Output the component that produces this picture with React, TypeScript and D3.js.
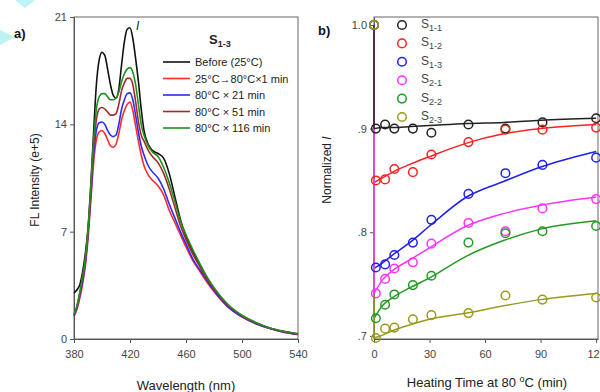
import React, { useEffect, useRef } from 'react'
import * as d3 from 'd3'

// --- panel a: fluorescence spectra (e+5) ---
const wavelengths = [380, 382, 384, 386, 388, 390, 392, 394, 396, 398, 400, 402, 404, 406, 408, 410, 412, 414, 416, 418, 420, 422, 424, 426, 428, 430, 433, 436, 440, 444, 448, 452, 456, 460, 465, 470, 475, 480, 490, 500, 510, 520, 530, 540]
const specBefore = [3.0, 3.2, 3.5, 4.3, 5.5, 7.2, 10.0, 13.5, 16.6, 18.2, 18.7, 18.5, 17.6, 16.6, 15.9, 15.7, 16.3, 17.9, 19.4, 20.2, 20.3, 19.6, 18.3, 16.8, 15.0, 13.6, 12.7, 12.3, 12.1, 11.8, 10.8, 9.3, 7.8, 6.7, 5.7, 4.8, 4.0, 3.3, 2.2, 1.5, 1.05, 0.7, 0.48, 0.33]
const spec1 = [1.5, 1.9, 2.6, 3.5, 4.7, 6.5, 9.0, 11.5, 13.0, 13.5, 13.6, 13.4, 13.0, 12.6, 12.5, 12.7, 13.4, 14.3, 14.9, 15.3, 15.45, 14.9, 13.9, 12.9, 12.0, 11.3, 10.7, 10.35, 10.0, 9.4, 8.4, 7.6, 6.8, 6.0, 5.1, 4.4, 3.7, 3.1, 2.1, 1.45, 1.0, 0.68, 0.45, 0.3]
const spec21 = [1.5, 2.0, 2.8, 3.7, 4.9, 6.8, 9.3, 12.0, 13.6, 14.1, 14.15, 14.0, 13.6, 13.3, 13.2, 13.3, 14.0, 15.0, 15.6, 16.0, 16.05, 15.6, 14.6, 13.5, 12.6, 12.0, 11.3, 10.9, 10.5, 9.8, 8.8, 7.9, 7.0, 6.2, 5.2, 4.5, 3.8, 3.15, 2.1, 1.45, 1.0, 0.68, 0.45, 0.3]
const spec51 = [1.6, 2.1, 2.9, 3.9, 5.1, 7.0, 9.6, 12.5, 14.3, 15.0, 15.1, 15.0, 14.8, 14.6, 14.6, 14.7, 15.3, 16.2, 16.7, 17.0, 17.0, 16.6, 15.5, 14.2, 13.3, 12.9, 12.3, 11.9, 11.5, 10.8, 9.8, 8.6, 7.4, 6.5, 5.5, 4.7, 3.9, 3.25, 2.2, 1.5, 1.05, 0.7, 0.47, 0.32]
const spec116 = [1.6, 2.1, 3.0, 4.0, 5.2, 7.1, 10.0, 13.0, 15.0, 15.8, 16.0, 16.0, 15.8, 15.6, 15.6, 15.7, 16.1, 16.8, 17.3, 17.6, 17.7, 17.4, 16.6, 15.3, 14.0, 13.3, 12.6, 12.2, 11.9, 11.2, 10.2, 9.0, 7.7, 6.8, 5.8, 4.9, 4.05, 3.35, 2.25, 1.55, 1.08, 0.72, 0.5, 0.35]
const specLabels = ['Before (25°C)', '25°C→80°C×1 min', '80°C × 21 min', '80°C × 51 min', '80°C × 116 min']
const specColors = ['#111111', '#ff2b2b', '#2b2bff', '#a52a2a', '#1f8f1f']
const wlTicks = [380, 420, 460, 500, 540]
const flTicks = [0, 7, 14, 21]

// --- panel b: normalized intensity vs heating time ---
const samples = ['1-1', '1-2', '1-3', '2-1', '2-2', '2-3']
const sampleColors = ['#222222', '#ff2020', '#2020e6', '#ff33ff', '#229a22', '#9a9a1e']
const startValue = 1.0
const times = [1, 6, 11, 21, 31, 51, 71, 91, 120]
const pts11 = [0.900, 0.904, 0.900, 0.900, 0.896, 0.904, 0.900, 0.906, 0.910]
const pts12 = [0.850, 0.851, 0.861, 0.858, 0.875, 0.887, 0.899, 0.899, 0.901]
const pts13 = [0.766, 0.769, 0.778, 0.790, 0.812, 0.837, 0.857, 0.865, 0.872]
const pts21 = [0.741, 0.755, 0.765, 0.771, 0.789, 0.809, 0.801, 0.823, 0.832]
const pts22 = [0.717, 0.730, 0.740, 0.749, 0.758, 0.790, 0.799, 0.801, 0.806]
const pts23 = [0.698, 0.707, 0.708, 0.716, 0.720, 0.722, 0.739, 0.735, 0.737]
const fitTimes = [0, 5, 10, 20, 30, 50, 70, 90, 120]
const fit11 = [0.900, 0.901, 0.901, 0.902, 0.903, 0.905, 0.906, 0.908, 0.910]
const fit12 = [0.848, 0.853, 0.858, 0.866, 0.873, 0.886, 0.895, 0.900, 0.904]
const fit13 = [0.765, 0.771, 0.778, 0.791, 0.806, 0.834, 0.849, 0.863, 0.878]
const fit21 = [0.741, 0.755, 0.763, 0.774, 0.785, 0.806, 0.818, 0.826, 0.834]
const fit22 = [0.717, 0.730, 0.737, 0.747, 0.756, 0.777, 0.792, 0.803, 0.811]
const fit23 = [0.698, 0.701, 0.705, 0.711, 0.716, 0.722, 0.729, 0.735, 0.741]
const timeTicks = [0, 30, 60, 90, 120]
const normTicks = [1.0, 0.9, 0.8, 0.7]

const FONT = 'Liberation Sans, Arial, sans-serif'

export default function App() {
  const ref = useRef<SVGSVGElement>(null)

  useEffect(() => {
    const svg = d3.select(ref.current)
    svg.selectAll('*').remove()

    // stray cyan shapes in the corner of the scan
    svg.append('path').attr('d', 'M15,0 L35,0 L25,8 Z').attr('fill', '#bdf3f5')
    svg.append('path').attr('d', 'M0,30 L15,37 L0,45 Z').attr('fill', '#bdf3f5')

    // ================= panel a =================
    const xa = d3.scaleLinear().domain([380, 540]).range([74, 298])
    const ya = d3.scaleLinear().domain([0, 21]).range([339, 17])
    const ga = svg.append('g')

    ga.append('rect')
      .attr('x', 74).attr('y', 17)
      .attr('width', 224).attr('height', 322)
      .attr('fill', 'none').attr('stroke', '#666').attr('stroke-width', 1)

    const axA = ga.append('g').attr('transform', 'translate(0,339)')
      .call(d3.axisBottom(xa).tickValues(wlTicks).tickSize(4).tickSizeOuter(0))
    const ayA = ga.append('g').attr('transform', 'translate(74,0)')
      .call(d3.axisLeft(ya).tickValues(flTicks).tickSize(4).tickSizeOuter(0))
    ;[axA, ayA].forEach(a => {
      a.select('.domain').attr('stroke', '#555')
      a.selectAll('line').attr('stroke', '#555')
      a.selectAll('text').attr('font-family', FONT).attr('font-size', 11).attr('fill', '#444')
    })
    axA.selectAll('text').attr('dy', '1.1em')

    const lineA = d3.line<number>()
      .x((d, i) => xa(wavelengths[i]))
      .y(d => ya(d))
      .curve(d3.curveMonotoneX)

    const spectra = [specBefore, spec1, spec21, spec51, spec116]
    const order = [0, 1, 2, 3, 4]
    order.forEach(i => {
      ga.append('path').attr('d', lineA(spectra[i]))
        .attr('fill', 'none').attr('stroke', specColors[i]).attr('stroke-width', 1.6)
    })

    // the small "I" marker next to the main peak
    ga.append('text').attr('x', 136).attr('y', 30)
      .attr('font-family', FONT).attr('font-size', 12).attr('font-style', 'italic')
      .attr('fill', '#222').text('I')

    // legend
    const leg = ga.append('g')
    const title = leg.append('text').attr('x', 209).attr('y', 44)
      .attr('font-family', FONT).attr('font-size', 13).attr('font-weight', 'bold').attr('fill', '#222')
    title.append('tspan').text('S')
    title.append('tspan').attr('font-size', 9).attr('dy', 3).text('1-3')
    specLabels.forEach((lab, i) => {
      const yy = 62 + i * 16.5
      leg.append('line').attr('x1', 163).attr('x2', 190).attr('y1', yy).attr('y2', yy)
        .attr('stroke', specColors[i]).attr('stroke-width', 1.6)
      leg.append('text').attr('x', 195).attr('y', yy + 4)
        .attr('font-family', FONT).attr('font-size', 11).attr('fill', '#222').text(lab)
    })

    ga.append('text')
      .attr('transform', 'translate(39,180) rotate(-90)')
      .attr('text-anchor', 'middle')
      .attr('font-family', FONT).attr('font-size', 12).attr('fill', '#222')
      .text('FL Intensity (e+5)')
    ga.append('text').attr('x', 186).attr('y', 390).attr('text-anchor', 'middle')
      .attr('font-family', FONT).attr('font-size', 13).attr('fill', '#222')
      .text('Wavelength (nm)')
    ga.append('text').attr('x', 14).attr('y', 38)
      .attr('font-family', FONT).attr('font-size', 13).attr('font-weight', 'bold').attr('fill', '#111')
      .text('a)')

    // ================= panel b =================
    const xb = d3.scaleLinear().domain([0, 121]).range([374, 598])
    const yb = d3.scaleLinear().domain([0.697, 1.0077]).range([339, 17])
    const gb = svg.append('g')

    gb.append('rect')
      .attr('x', 374).attr('y', 17)
      .attr('width', 224).attr('height', 322)
      .attr('fill', 'none').attr('stroke', '#666').attr('stroke-width', 1)

    const axB = gb.append('g').attr('transform', 'translate(0,339)')
      .call(d3.axisBottom(xb).tickValues(timeTicks).tickSize(4).tickSizeOuter(0))
    const ayB = gb.append('g').attr('transform', 'translate(374,0)')
      .call(d3.axisLeft(yb).tickValues(normTicks).tickSize(4).tickSizeOuter(0)
        .tickFormat(d => (+d === 1 ? '1.0' : d3.format('.1f')(+d).replace(/^0/, ''))))
    ;[axB, ayB].forEach(a => {
      a.select('.domain').attr('stroke', '#555')
      a.selectAll('line').attr('stroke', '#555')
      a.selectAll('text').attr('font-family', FONT).attr('font-size', 11).attr('fill', '#444')
    })
    axB.selectAll('text').attr('dy', '1.1em')

    const fits = [fit11, fit12, fit13, fit21, fit22, fit23]
    const pts = [pts11, pts12, pts13, pts21, pts22, pts23]
    const lineB = d3.line<[number, number]>()
      .x(d => xb(d[0])).y(d => yb(d[1]))
      .curve(d3.curveMonotoneX)

    // fitted curves, each drops from the unheated value at t = 0
    const drawOrder = [1, 2, 4, 5, 3, 0]
    drawOrder.forEach(i => {
      const fp: [number, number][] = [[0, startValue]]
      fitTimes.forEach((t, k) => fp.push([t, fits[i][k]]))
      gb.append('path').attr('d', lineB(fp.slice(0, 2)))
        .attr('fill', 'none').attr('stroke', sampleColors[i]).attr('stroke-width', 1.5)
      gb.append('path').attr('d', lineB(fp.slice(1)))
        .attr('fill', 'none').attr('stroke', sampleColors[i]).attr('stroke-width', 1.5)
    })

    // measured points
    pts.forEach((series, i) => {
      const data: [number, number][] = [[0, startValue]]
      times.forEach((t, k) => data.push([t, series[k]]))
      gb.append('g').selectAll('circle')
        .data(data).enter().append('circle')
        .attr('cx', d => xb(d[0])).attr('cy', d => yb(d[1]))
        .attr('r', 4.3)
        .attr('fill', 'none').attr('stroke', sampleColors[i]).attr('stroke-width', 1.5)
    })

    // legend
    samples.forEach((s, i) => {
      const yy = 25 + i * 18.4
      gb.append('circle').attr('cx', 402).attr('cy', yy).attr('r', 4.3)
        .attr('fill', 'none').attr('stroke', sampleColors[i]).attr('stroke-width', 1.5)
      const t = gb.append('text').attr('x', 421).attr('y', yy + 3)
        .attr('font-family', FONT).attr('font-size', 12).attr('fill', '#444')
      t.append('tspan').text('S')
      t.append('tspan').attr('font-size', 9).attr('dy', 3).text(s)
    })

    const yl = gb.append('text')
      .attr('transform', 'translate(331,170) rotate(-90)')
      .attr('text-anchor', 'middle')
      .attr('font-family', FONT).attr('font-size', 12).attr('fill', '#222')
    yl.append('tspan').text('Normalized ')
    yl.append('tspan').attr('font-style', 'italic').text('I')

    const xl = gb.append('text').attr('x', 487).attr('y', 387).attr('text-anchor', 'middle')
      .attr('font-family', FONT).attr('font-size', 13).attr('fill', '#222')
    xl.append('tspan').text('Heating Time at 80 ')
    xl.append('tspan').attr('font-size', 9).attr('dy', -5).text('o')
    xl.append('tspan').attr('dy', 5).text('C (min)')

    gb.append('text').attr('x', 318).attr('y', 35)
      .attr('font-family', FONT).attr('font-size', 13).attr('font-weight', 'bold').attr('fill', '#111')
      .text('b)')
  }, [])

  return (
    <svg ref={ref} width={600} height={392}
      style={{ position: 'absolute', left: 0, top: 0, background: '#fff' }} />
  )
}
